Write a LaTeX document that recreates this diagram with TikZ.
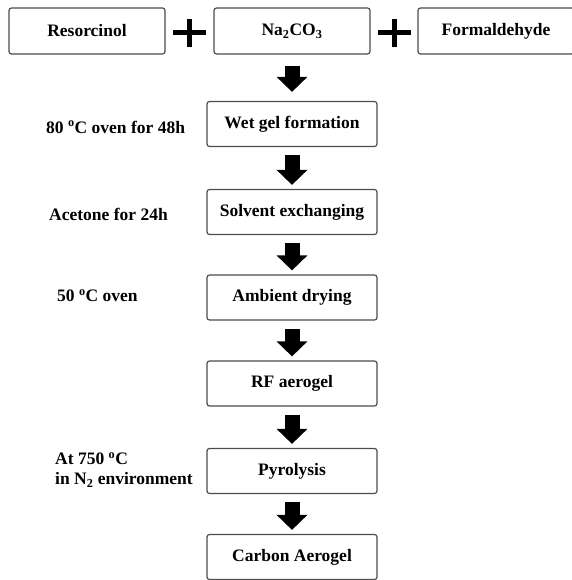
\documentclass[tikz,border=0pt]{standalone}
\usepackage{fontspec}
\setmainfont{Liberation Serif}
\usetikzlibrary{arrows.meta,calc}

\tikzset{
  stepbox/.style={draw=black!70, line width=1.2pt, rounded corners=2.5pt,
    minimum width=170pt, minimum height=45pt, inner sep=0pt,
    font=\bfseries\fontsize{17.5}{20}\selectfont},
  inbox/.style={stepbox, minimum width=156pt, minimum height=46pt},
  note/.style={anchor=west, align=left, inner sep=0pt,
    font=\bfseries\fontsize{17.5}{19.5}\selectfont},
  blockarrow/.style={line width=15pt, -{Triangle[length=15pt,width=30pt]},
    shorten <=8pt, shorten >=4pt},
  plussign/.style={line width=5pt}
}

\begin{document}
\begin{tikzpicture}[x=1pt,y=-1pt]
\useasboundingbox (0,0) rectangle (571,580);
% starting materials
\node[inbox] (res) at (87,31) {Resorcinol};
\node[inbox] (na) at (292,31) {Na\textsubscript{2}CO\textsubscript{3}};
\node[inbox] (form) at (496,31) {Formaldehyde};
\coordinate (plusA) at ($(res.east)!0.5!(na.west)+(0,2)$);
\coordinate (plusB) at ($(na.east)!0.5!(form.west)+(0,2)$);
\draw[plussign] ([xshift=-16.5pt]plusA) -- ([xshift=16.5pt]plusA);
\draw[plussign] ([yshift=14pt]plusA) -- ([yshift=-14pt]plusA);
\draw[plussign] ([xshift=-16.5pt]plusB) -- ([xshift=16.5pt]plusB);
\draw[plussign] ([yshift=14pt]plusB) -- ([yshift=-14pt]plusB);
% process steps
\node[stepbox] (wet) at (292,124) {Wet gel formation};
\node[stepbox] (solv) at (292,212) {Solvent exchanging};
\node[stepbox] (amb) at (292,297.5) {Ambient drying};
\node[stepbox] (rf) at (292,383.5) {RF aerogel};
\node[stepbox] (pyro) at (292,471) {Pyrolysis};
\node[stepbox] (carb) at (292,557) {Carbon Aerogel};
% conditions
\node[note] (lbloven) at (46,127) {80 \textsuperscript{o}C oven for 48h};
\node[note] (lblacet) at (49,214) {Acetone for 24h};
\node[note] (lbldry) at (57,296) {50 \textsuperscript{o}C oven};
\node[note] (lblpyro) at (55,470) {At 750 \textsuperscript{o}C\\in N\textsubscript{2} environment};
% arrows
\draw[blockarrow, shorten <=11pt, shorten >=9pt] (na) -- (wet);
\draw[blockarrow] (wet) -- (solv);
\draw[blockarrow] (solv) -- (amb);
\draw[blockarrow] (amb) -- (rf);
\draw[blockarrow] (rf) -- (pyro);
\draw[blockarrow] (pyro) -- (carb);
\end{tikzpicture}
\end{document}
